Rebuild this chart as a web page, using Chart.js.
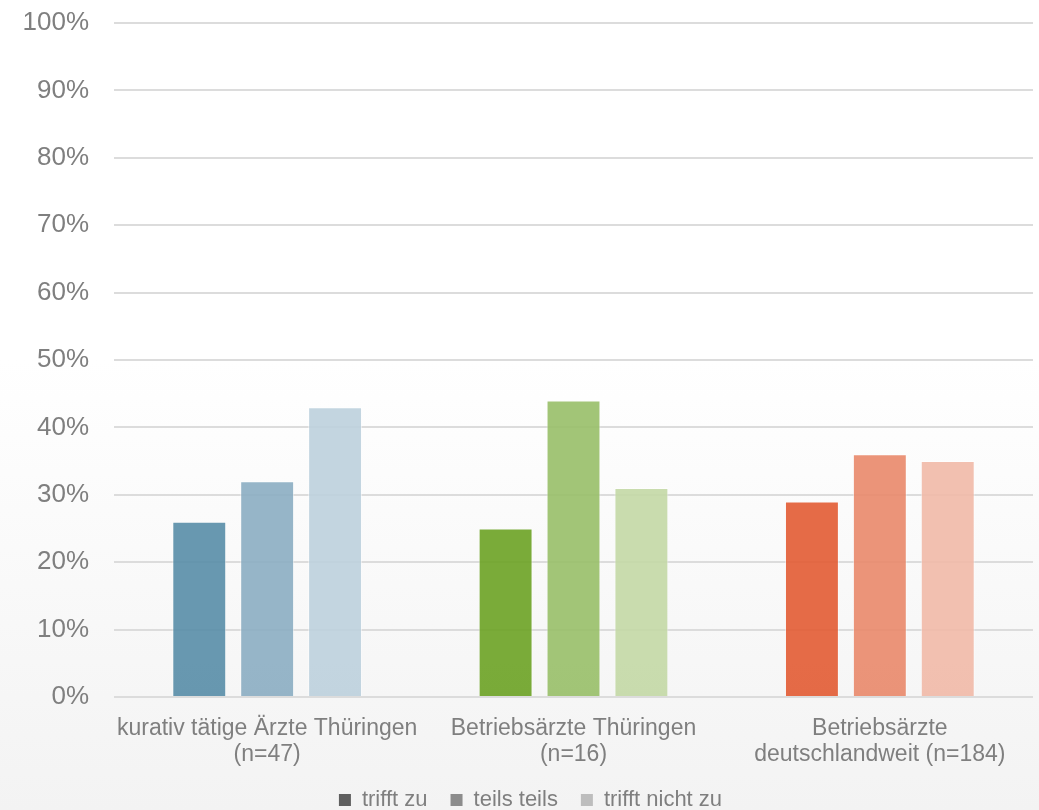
<!DOCTYPE html>
<html lang="de">
<head>
<meta charset="utf-8">
<title>Einschätzung nach Arztgruppe</title>
<script src="https://cdn.jsdelivr.net/npm/chart.js@4/dist/chart.umd.min.js"></script>
<style>
  html, body { margin: 0; padding: 0; background: #ffffff; }
  #wrap { position: relative; width: 1039px; height: 810px; }
</style>
</head>
<body>
<div id="wrap"><canvas id="chart"></canvas></div>
<script>
// Groups of respondents (two-line axis labels)
const categories = [
  ['kurativ tätige Ärzte Thüringen', '(n=47)'],
  ['Betriebsärzte Thüringen', '(n=16)'],
  ['Betriebsärzte', 'deutschlandweit (n=184)']
];

// Answer options
const seriesNames = ['trifft zu', 'teils teils', 'trifft nicht zu'];

// Share of answers in percent, per group
const triffZu      = [26, 25, 29];
const teilsTeils   = [32, 44, 36];
const trifftNicht  = [43, 31, 35];

// Y axis ticks
const yTicks = [0, 10, 20, 30, 40, 50, 60, 70, 80, 90, 100];

// Each group has its own hue, the answer option sets the shade
const groupColors = [
  ['rgba(88,141,167,0.9)',  'rgba(139,173,194,0.9)', 'rgba(188,208,221,0.9)'],
  ['rgba(107,162,36,0.9)',  'rgba(152,191,104,0.9)', 'rgba(195,216,165,0.9)'],
  ['rgba(226,91,51,0.9)',   'rgba(233,136,106,0.9)', 'rgba(241,185,167,0.9)']
];
const legendGreys = ['#5f5f5f', '#8c8c8c', '#bdbdbd'];

const seriesValues = [triffZu, teilsTeils, trifftNicht];

const datasets = seriesNames.map((name, s) => ({
  label: name,
  data: seriesValues[s],
  backgroundColor: categories.map((_, c) => groupColors[c][s]),
  borderColor: 'rgba(255,255,255,0.5)',
  borderWidth: 1,
  barPercentage: 0.794,
  categoryPercentage: 0.665
}));

// Soft white-to-grey background in the lower half
const backgroundFill = {
  id: 'backgroundFill',
  beforeDraw(chart) {
    const ctx = chart.ctx;
    const h = chart.height;
    const g = ctx.createLinearGradient(0, 360, 0, h);
    g.addColorStop(0, '#ffffff');
    g.addColorStop(1, '#f3f3f3');
    ctx.save();
    ctx.fillStyle = g;
    ctx.fillRect(0, 0, chart.width, h);
    ctx.restore();
  }
};

// Nudge the legend row a little to the right of the canvas centre
const legendOffset = {
  id: 'legendOffset',
  afterLayout(chart) {
    const lg = chart.legend;
    if (lg) { lg.left += 14; lg.right += 14; }
  }
};

const textGrey = '#7f7f7f';
const fontFamily = '"Liberation Sans", Arial, sans-serif';

new Chart(document.getElementById('chart'), {
  type: 'bar',
  data: { labels: categories, datasets },
  plugins: [backgroundFill, legendOffset],
  options: {
    responsive: true,
    maintainAspectRatio: false,
    animation: false,
    layout: { padding: { top: 23, right: 6, left: 0, bottom: -11 } },
    plugins: {
      tooltip: { enabled: false },
      legend: {
        position: 'bottom',
        labels: {
          boxWidth: 12,
          boxHeight: 12,
          padding: 23,
          color: textGrey,
          font: { family: fontFamily, size: 22 },
          generateLabels(chart) {
            return chart.data.datasets.map((ds, i) => ({
              text: ds.label,
              fillStyle: legendGreys[i],
              strokeStyle: legendGreys[i],
              lineWidth: 0,
              fontColor: textGrey,
              hidden: false,
              datasetIndex: i
            }));
          }
        }
      }
    },
    scales: {
      x: {
        grid: { display: false },
        border: { display: false },
        ticks: {
          color: textGrey,
          padding: 10,
          maxRotation: 0,
          autoSkip: false,
          font: { family: fontFamily, size: 23, lineHeight: 1.15 }
        },
        afterFit(scale) { scale.height = 69; }
      },
      y: {
        min: 0,
        max: 100,
        afterBuildTicks(scale) { scale.ticks = yTicks.map(v => ({ value: v })); },
        grid: {
          color: '#dcdcdc',
          lineWidth: 2,
          drawTicks: true,
          tickLength: 22,
          tickColor: 'rgba(0,0,0,0)'
        },
        border: { display: false },
        ticks: {
          color: textGrey,
          padding: 3,
          font: { family: fontFamily, size: 26 },
          callback: v => v + '%'
        },
        afterFit(scale) { scale.width = 114; }
      }
    }
  }
});
</script>
</body>
</html>
